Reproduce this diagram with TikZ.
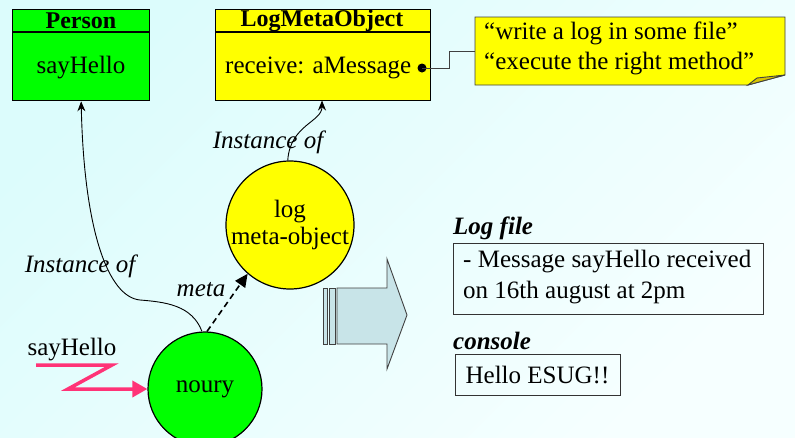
\documentclass[tikz,border=0pt]{standalone}
\usepackage{fontspec}
\setmainfont{Liberation Serif}
\usetikzlibrary{arrows.meta}
\definecolor{bgA}{HTML}{DCFCFC}
\definecolor{bgB}{HTML}{C0F8F9}
\definecolor{bgC}{HTML}{F6FFFF}
\definecolor{objgreen}{HTML}{00FF00}
\definecolor{objyellow}{HTML}{FFFF00}
\definecolor{foldyellow}{HTML}{D8C400}
\definecolor{zigpink}{HTML}{FF3377}
\definecolor{bigarrow}{HTML}{C8E4E8}
\tikzset{
  classbox/.style={draw=black, line width=1.3pt, anchor=north west, inner sep=0pt},
  objcircle/.style={circle, draw=black, line width=1.2pt, minimum size=#1, inner sep=0pt, align=center},
  lbl/.style={inner sep=0pt},
  ilbl/.style={inner sep=0pt, font=\fontsize{25}{30}\selectfont\itshape},
  bilbl/.style={inner sep=0pt, anchor=west, font=\fontsize{25}{30}\selectfont\bfseries\itshape},
  txtbox/.style={draw=black!80, line width=0.9pt, inner sep=0pt},
  instarrow/.style={draw=black, line width=0.9pt, -{Stealth[length=10pt,width=8pt]}},
}
\begin{document}
\begin{tikzpicture}[x=1pt,y=-1pt,font=\fontsize{25}{30}\selectfont]
\useasboundingbox (0,0) rectangle (795,437);
\shade[top color=bgA, middle color=bgB, bottom color=bgC, shading angle=45] (0,0) rectangle (795,437);

% Person class
\node[classbox, fill=objgreen, minimum width=137pt, minimum height=91pt] (person) at (12,9) {};
\draw[line width=1.3pt] (12,32) coordinate (phl) -- (149,32) coordinate (phr);
\node[lbl, font=\fontsize{24}{29}\selectfont\bfseries] (personname) at (81,21) {Person};
\node[lbl] (personmeth) at (81,68) {sayHello};

% LogMetaObject class
\node[classbox, fill=objyellow, minimum width=215pt, minimum height=91pt] (lmo) at (215,9) {};
\draw[line width=1.3pt] (215,32) coordinate (lhl) -- (430,32) coordinate (lhr);
\node[lbl, font=\fontsize{24}{29}\selectfont\bfseries] (lmoname) at (322,21) {LogMetaObject};
\node[lbl, anchor=west] (lmometh) at (225,68) {receive: aMessage};
\coordinate (dot) at (422,68);
\fill (dot) circle (4.5pt);

% note
\coordinate (n1) at (475,17);
\coordinate (n2) at (785,17);
\coordinate (n3) at (785,75);
\coordinate (n4) at (748,85);
\coordinate (n5) at (475,85);
\coordinate (nf) at (757,78);
\filldraw[fill=objyellow, draw=black!75, line width=0.9pt] (n1) -- (n2) -- (n3) -- (n4) -- (n5) -- cycle;
\filldraw[fill=foldyellow, draw=black!75, line width=0.9pt] (n4) -- (nf) -- (n3) -- cycle;
\node[lbl, anchor=west, align=left, font=\fontsize{25}{30}\selectfont] (note) at (484,48) {“write a log in some file”\\“execute the right method”};
\coordinate (k1) at (449,68);
\coordinate (k2) at (449,51);
\draw[black!75, line width=1pt] (dot) -- (k1) -- (k2) -- (n5 |- k2);

% objects
\node[objcircle=128pt, fill=objyellow] (log) at (290,225) {log\\[-3pt]meta-object};
\node[objcircle=114pt, fill=objgreen] (noury) at (205,389) {noury};

% instance-of links
\draw[instarrow] (noury.93) .. controls (192,305) and (165,302) .. (140,300)
  .. controls (108,297) and (84,230) .. (person.south);
\draw[instarrow] (log.92) .. controls (290,125) and (322,122) .. (322,100.5);
\node[ilbl] (inst1) at (80,266) {Instance of};
\node[ilbl] (inst2) at (268,142) {Instance of};

% meta link
\draw[dashed, line width=1.6pt, dash pattern=on 6pt off 4pt, -{Triangle[length=13pt,width=12pt]}] (noury.88) -- (log.229);
\node[ilbl] (metalbl) at (201,290) {meta};

% message zigzag
\node[lbl] (msg) at (72,350) {sayHello};
\coordinate (z1) at (36,365);
\coordinate (z2) at (112,365);
\coordinate (z3) at (68,389);
\draw[zigpink, line width=3.5pt, line join=miter, -{Triangle[length=15pt,width=16pt]}] (z1) -- (z2) -- (z3) -- (noury.west);

% big arrow
\filldraw[fill=bigarrow, draw=black!75, line width=0.9pt] (323,288) rectangle (327,344);
\filldraw[fill=bigarrow, draw=black!75, line width=0.9pt] (329,288) rectangle (335,344);
\filldraw[fill=bigarrow, draw=black!75, line width=0.9pt] (337,288) -- (387,288) -- (387,259) -- (407,315) -- (387,369) -- (387,344) -- (337,344) -- cycle;

% log file and console
\node[bilbl] (logfilelbl) at (453,228) {Log file};
\node[txtbox, minimum width=310pt, minimum height=71pt] (logfile) at (608,278.5) {};
\node[lbl, anchor=north west, align=left, font=\fontsize{25}{31}\selectfont] (logtext) at (463,250) {- Message sayHello received\\on 16th august at 2pm};
\node[bilbl] (consolelbl) at (453,341) {console};
\node[txtbox, minimum width=165pt, minimum height=41pt] (console) at (537.5,374.5) {Hello ESUG!!};
\end{tikzpicture}
\end{document}
